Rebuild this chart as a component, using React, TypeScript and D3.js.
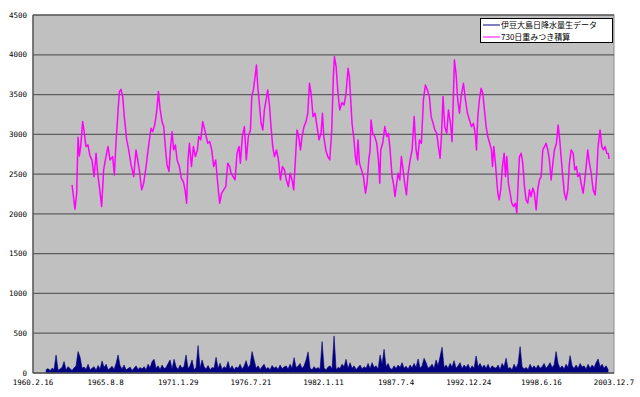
import React from "react";
import * as d3 from "d3";

const tickLabels = [
  "1960.2.16", "1965.8.8", "1971.1.29", "1976.7.21", "1982.1.11",
  "1987.7.4", "1992.12.24", "1998.6.16", "2003.12.7",
];
const yTicks = [0, 500, 1000, 1500, 2000, 2500, 3000, 3500, 4000, 4500];
const legendLabels = ["伊豆大島日降水量生データ", "730日重みつき積算"];

// daily rainfall (mm), sampled peaks every ~55 days from early 1961
const rainStartYear = 1961.11;
const rainStepYears = 0.1508;
const rainValues = [
  40, 55, 30, 60, 45, 227, 35, 50, 70, 143, 40, 80, 55, 30, 65, 90, 269, 200, 60, 75,
  45, 110, 40, 60, 80, 35, 95, 50, 151, 70, 110, 40, 60, 85, 45, 120, 227, 90, 50, 100,
  40, 55, 75, 30, 60, 90, 45, 70, 50, 80, 40, 110, 65, 143, 172, 60, 90, 45, 100, 55,
  70, 120, 164, 50, 172, 80, 45, 100, 60, 85, 227, 55, 90, 164, 40, 70, 344, 60, 164, 80,
  50, 95, 40, 70, 60, 197, 55, 122, 45, 80, 60, 143, 50, 90, 40, 75, 60, 110, 50, 85,
  155, 70, 100, 269, 164, 60, 90, 45, 80, 110, 50, 70, 40, 95, 60, 80, 45, 100, 55, 75,
  90, 50, 110, 60, 193, 70, 85, 120, 55, 90, 164, 265, 60, 40, 80, 50, 70, 45, 395, 60,
  40, 75, 90, 50, 466, 45, 70, 60, 110, 80, 172, 55, 130, 60, 90, 45, 70, 100, 50, 80,
  60, 120, 55, 130, 70, 90, 50, 227, 110, 298, 80, 120, 60, 45, 90, 55, 100, 70, 130, 60,
  85, 50, 100, 65, 120, 70, 176, 60, 90, 185, 130, 60, 80, 110, 60, 164, 90, 206, 323, 70,
  100, 60, 120, 75, 155, 60, 90, 130, 55, 100, 70, 110, 50, 90, 60, 214, 80, 120, 65, 100,
  60, 110, 50, 90, 70, 60, 100, 45, 120, 80, 185, 55, 70, 40, 110, 60, 120, 332, 80, 50,
  70, 45, 110, 60, 90, 55, 100, 60, 80, 120, 60, 90, 130, 70, 100, 269, 120, 60, 90, 50,
  110, 70, 218, 90, 55, 100, 60, 120, 75, 90, 50, 110, 60, 100, 70, 130, 176, 80, 110, 60,
  90, 45,
];

// 730-day weighted accumulation: [decimal year, mm]
const sumSeries: [number, number][] = [
  [1963.07, 2364], [1963.29, 2059], [1963.42, 2260], [1963.52, 2963], [1963.62, 2729],
  [1963.72, 2846], [1963.87, 3160], [1964.0, 3013], [1964.12, 2846], [1964.27, 2867],
  [1964.42, 2729], [1964.57, 2678], [1964.73, 2469], [1964.88, 2762], [1965.0, 2511],
  [1965.13, 2343], [1965.3, 2092], [1965.45, 2553], [1965.58, 2678], [1965.78, 2846],
  [1965.93, 2678], [1966.13, 2720], [1966.26, 2490], [1966.38, 2888], [1966.54, 3307],
  [1966.64, 3537], [1966.76, 3566], [1966.89, 3474], [1967.01, 3223], [1967.19, 2930],
  [1967.34, 2804], [1967.52, 2616], [1967.72, 2469], [1967.89, 2804], [1968.02, 2678],
  [1968.14, 2553], [1968.32, 2302], [1968.47, 2385], [1968.65, 2595], [1968.8, 2804],
  [1968.9, 2930], [1969.02, 3076], [1969.15, 3034], [1969.3, 3118], [1969.45, 3286],
  [1969.58, 3537], [1969.7, 3328], [1969.85, 3160], [1969.98, 3097], [1970.1, 2846],
  [1970.23, 2616], [1970.38, 2532], [1970.48, 2804], [1970.61, 3034], [1970.73, 2804],
  [1970.86, 2867], [1970.99, 2678], [1971.16, 2595], [1971.31, 2448], [1971.46, 2406],
  [1971.59, 2302], [1971.71, 2134], [1971.81, 2678], [1971.92, 2888], [1972.07, 2595],
  [1972.22, 2846], [1972.37, 2720], [1972.52, 2804], [1972.62, 2972], [1972.77, 2930],
  [1972.92, 3160], [1973.07, 3055], [1973.3, 2888], [1973.45, 2909], [1973.6, 2804],
  [1973.75, 2595], [1973.9, 2678], [1974.05, 2385], [1974.2, 2134], [1974.35, 2260],
  [1974.5, 2302], [1974.66, 2343], [1974.81, 2637], [1974.96, 2595], [1975.06, 2511],
  [1975.21, 2469], [1975.36, 2427], [1975.51, 2762], [1975.66, 2846], [1975.76, 2637],
  [1975.91, 2972], [1976.06, 3097], [1976.21, 2678], [1976.36, 2972], [1976.52, 3055],
  [1976.62, 3474], [1976.74, 3558], [1976.87, 3725], [1976.97, 3872], [1977.07, 3600],
  [1977.19, 3390], [1977.32, 3139], [1977.45, 3055], [1977.57, 3307], [1977.7, 3432],
  [1977.82, 3558], [1977.95, 3370], [1978.07, 3097], [1978.2, 2846], [1978.33, 2720],
  [1978.48, 2804], [1978.63, 2678], [1978.78, 2427], [1978.93, 2595], [1979.08, 2553],
  [1979.23, 2427], [1979.38, 2343], [1979.51, 2511], [1979.66, 2427], [1979.78, 2302],
  [1979.91, 2678], [1980.03, 3055], [1980.16, 2972], [1980.29, 2804], [1980.41, 2972],
  [1980.56, 3097], [1980.71, 3160], [1980.84, 3265], [1980.97, 3642], [1981.09, 3516],
  [1981.24, 3223], [1981.39, 3265], [1981.54, 3097], [1981.69, 2930], [1981.84, 3013],
  [1981.95, 3265], [1982.05, 2972], [1982.2, 2804], [1982.35, 2720], [1982.5, 2678],
  [1982.65, 3055], [1982.77, 3725], [1982.85, 3977], [1982.98, 3851], [1983.1, 3558],
  [1983.25, 3307], [1983.43, 3400], [1983.58, 3370], [1983.73, 3516], [1983.88, 3830],
  [1983.98, 3725], [1984.08, 3432], [1984.18, 3139], [1984.33, 2930], [1984.43, 2720],
  [1984.53, 2616], [1984.63, 2930], [1984.74, 2637], [1984.89, 2553], [1985.04, 2469],
  [1985.19, 2260], [1985.31, 2385], [1985.44, 2678], [1985.54, 2804], [1985.61, 3181],
  [1985.74, 3013], [1985.89, 2972], [1986.04, 2888], [1986.17, 2678], [1986.27, 2385],
  [1986.34, 2804], [1986.49, 2888], [1986.65, 3097], [1986.8, 2972], [1986.92, 3013],
  [1987.05, 2804], [1987.2, 2469], [1987.3, 2385], [1987.42, 2218], [1987.55, 2385],
  [1987.65, 2511], [1987.78, 2427], [1987.9, 2720], [1988.03, 2553], [1988.15, 2385],
  [1988.28, 2239], [1988.41, 2511], [1988.56, 2678], [1988.71, 2804], [1988.86, 3223],
  [1989.01, 2804], [1989.13, 2678], [1989.26, 2930], [1989.41, 2888], [1989.56, 3432],
  [1989.71, 3621], [1989.86, 3558], [1990.01, 3474], [1990.14, 3223], [1990.29, 3139],
  [1990.42, 3055], [1990.57, 3013], [1990.69, 2846], [1990.82, 2699], [1990.92, 2972],
  [1991.04, 3474], [1991.17, 3097], [1991.32, 3013], [1991.45, 3307], [1991.6, 3139],
  [1991.72, 2909], [1991.82, 3474], [1991.9, 3935], [1992.02, 3767], [1992.15, 3432],
  [1992.28, 3265], [1992.4, 3474], [1992.58, 3642], [1992.73, 3432], [1992.88, 3265],
  [1993.03, 3181], [1993.18, 3097], [1993.33, 3139], [1993.48, 2993], [1993.56, 2804],
  [1993.66, 3223], [1993.78, 3432], [1993.91, 3579], [1994.04, 3516], [1994.16, 3307],
  [1994.29, 3097], [1994.41, 2972], [1994.56, 2888], [1994.69, 2804], [1994.77, 2595],
  [1994.87, 2846], [1994.97, 2678], [1995.07, 2469], [1995.17, 2260], [1995.27, 2176],
  [1995.39, 2302], [1995.52, 2595], [1995.65, 2762], [1995.75, 2469], [1995.85, 2720],
  [1995.97, 2385], [1996.1, 2260], [1996.22, 2134], [1996.37, 2092], [1996.5, 2134],
  [1996.6, 2008], [1996.68, 2302], [1996.8, 2720], [1996.93, 2762], [1997.05, 2637],
  [1997.18, 2343], [1997.3, 2176], [1997.43, 2134], [1997.56, 2302], [1997.68, 2218],
  [1997.81, 2323], [1997.93, 2260], [1998.06, 2050], [1998.18, 2302], [1998.31, 2427],
  [1998.44, 2469], [1998.56, 2804], [1998.69, 2846], [1998.81, 2888], [1998.94, 2804],
  [1999.06, 2678], [1999.19, 2427], [1999.32, 2637], [1999.44, 2804], [1999.59, 2888],
  [1999.72, 3118], [1999.84, 2930], [1999.94, 2720], [2000.07, 2469], [2000.19, 2260],
  [2000.32, 2176], [2000.45, 2302], [2000.57, 2637], [2000.7, 2804], [2000.85, 2762],
  [2000.97, 2553], [2001.1, 2595], [2001.2, 2469], [2001.33, 2511], [2001.45, 2385],
  [2001.6, 2260], [2001.7, 2385], [2001.83, 2595], [2001.95, 2804], [2002.08, 2637],
  [2002.21, 2511], [2002.36, 2302], [2002.51, 2239], [2002.63, 2511], [2002.73, 2846],
  [2002.88, 3055], [2003.01, 2846], [2003.14, 2804], [2003.26, 2846], [2003.39, 2762],
  [2003.5, 2760], [2003.56, 2690],
];

function yearToDate(v: number): Date {
  const yr = Math.floor(v);
  const a = new Date(yr, 0, 1).getTime();
  const b = new Date(yr + 1, 0, 1).getTime();
  return new Date(a + (v - yr) * (b - a));
}
function parseLabel(s: string): Date {
  const [y, m, d] = s.split(".").map(Number);
  return new Date(y, m - 1, d);
}

export default function App() {
  const W = 640;
  const H = 397;
  const left = 33;
  const right = 614;
  const top = 15;
  const bottom = 373;
  const tickDates = tickLabels.map(parseLabel);
  const x = d3
    .scaleTime()
    .domain([tickDates[0], tickDates[tickDates.length - 1]])
    .range([left, right]);
  const y = d3.scaleLinear().domain([0, 4500]).range([bottom, top]);
  const line = d3
    .line<[number, number]>()
    .x((d) => x(yearToDate(d[0])))
    .y((d) => y(d[1]));
  const rainArea = d3
    .area<number>()
    .x((_, i) => x(yearToDate(rainStartYear + i * rainStepYears)))
    .y0(y(0))
    .y1((d) => y(d));
  const mono = "'DejaVu Sans Mono', monospace";
  const jp = "'Noto Sans CJK JP', sans-serif";

  return (
    <svg
      width={W}
      height={H}
      style={{ position: "absolute", left: 0, top: 0, background: "#fff" }}
    >
      <rect x={0} y={0} width={W} height={H} fill="#fff" />
      <rect
        x={left}
        y={top}
        width={right - left}
        height={bottom - top}
        fill="#c0c0c0"
        stroke="#8a8a8a"
        strokeWidth={1}
      />
      {yTicks.map((t) => (
        <g key={t}>
          {t > 0 && (
            <line
              x1={left}
              x2={right}
              y1={y(t)}
              y2={y(t)}
              stroke="#5e5e5e"
              strokeWidth={1.3}
            />
          )}
          <text
            x={27}
            y={y(t)}
            dy="0.35em"
            textAnchor="end"
            fontFamily={mono}
            fontSize={7.5}
            fill="#000"
          >
            {t}
          </text>
        </g>
      ))}
      <path
        d={rainArea(rainValues) || ""}
        fill="#000080"
        stroke="#000080"
        strokeWidth={0.6}
        strokeLinejoin="miter"
      />
      <path
        d={line(sumSeries) || ""}
        fill="none"
        stroke="#ff00ff"
        strokeWidth={1.5}
        strokeLinejoin="round"
      />
      <line x1={left} x2={left} y1={top} y2={bottom} stroke="#555" strokeWidth={1.3} />
      <line x1={left} x2={right} y1={bottom} y2={bottom} stroke="#555" strokeWidth={1.3} />
      {tickDates.map((d, i) => (
        <text
          key={i}
          x={x(d)}
          y={385}
          textAnchor="middle"
          fontFamily={mono}
          fontSize={7.5}
          fill="#000"
        >
          {tickLabels[i]}
        </text>
      ))}
      <g>
        <rect x={480.5} y={18.5} width={132} height={24} fill="#fff" stroke="#000" strokeWidth={1} />
        {legendLabels.map((lab, i) => (
          <g key={lab}>
            <line
              x1={483}
              x2={500}
              y1={25 + i * 12}
              y2={25 + i * 12}
              stroke={i === 0 ? "#000080" : "#ff00ff"}
              strokeWidth={1}
            />
            <text
              x={501}
              y={25 + i * 12}
              dy="0.35em"
              fontFamily={jp}
              fontSize={8}
              fill="#000"
            >
              {lab}
            </text>
          </g>
        ))}
      </g>
    </svg>
  );
}
